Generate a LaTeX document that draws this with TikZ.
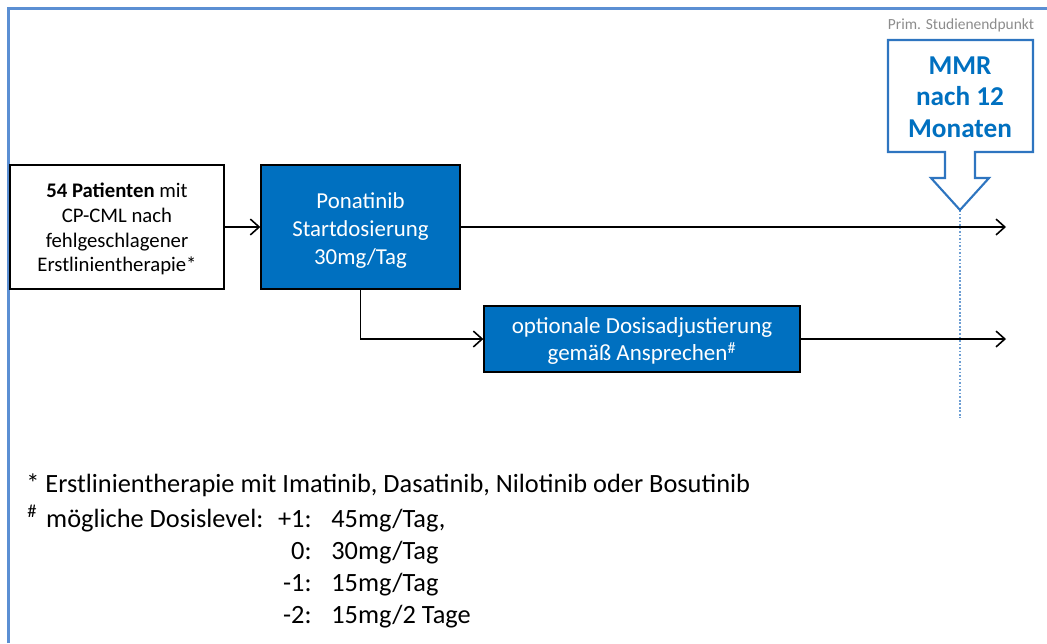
\documentclass[tikz,border=0pt]{standalone}
\usepackage{fontspec}
\setmainfont{Carlito}
\usetikzlibrary{positioning, arrows.meta}
\definecolor{boxblue}{HTML}{0070C0}
\definecolor{frameblue}{HTML}{5B8FD3}
\definecolor{calloutblue}{HTML}{2E75C0}
\begin{document}
\begin{tikzpicture}[x=0.02cm, y=-0.02cm, >={Straight Barb[length=5pt,width=9pt]}]
    \useasboundingbox (0,0) rectangle (1047,643);
    % Frame
    \draw[frameblue, line width=1.2pt] (8.5,643) -- (8.5,8.5) -- (1047,8.5);
    % Boxes
    \node[draw, line width=.8pt, fill=white, minimum width=4.28cm, minimum height=2.48cm,
          align=center, font=\fontsize{11.8}{14.2}\selectfont]
        (Patients) at (117,227) {\rule{0pt}{10.5pt}\textbf{54 Patienten} mit\\CP-CML nach\\fehlgeschlagener\\Erstlinientherapie*};
    \node[draw, line width=.8pt, fill=boxblue, text=white, minimum width=3.98cm, minimum height=2.48cm,
          align=center, font=\fontsize{13}{16}\selectfont]
        (Start) at (360.5,227) {\rule{0pt}{13pt}Ponatinib\\Startdosierung\\30mg/Tag};
    \node[draw, line width=.8pt, fill=boxblue, text=white, minimum width=6.32cm, minimum height=1.32cm,
          align=center, font=\fontsize{13.1}{15.5}\selectfont]
        (Adjust) at (642,339) {\rule{0pt}{11.5pt}optionale Dosisadjustierung\\gemäß Ansprechen\textsuperscript{\#}};
    % End points
    \coordinate (End-1) at (1006,227);
    \coordinate (End-2) at (1006,339);
    % Arrows
    \draw[->, line width=.9pt] (Patients) -- (Start);
    \draw[->, line width=.9pt] (Start) -- (End-1);
    \draw[->, line width=.9pt] (Start.south) |- (Adjust.west);
    \draw[->, line width=.9pt] (Adjust) -- (End-2);
    % Primary endpoint
    \coordinate (Tip) at (960,210);
    \coordinate (Bottom) at (960,418);
    \draw[calloutblue!70, densely dotted, line width=1pt] (Tip) -- (Bottom);
    \draw[calloutblue, line width=1.2pt, fill=white]
        (888,40) -- (1033,40) -- (1033,152) -- (975,152) -- (975,178) -- (989,178)
        -- (Tip) -- (931,178) -- (945,178) -- (945,152) -- (888,152) -- cycle;
    \node[text=boxblue, align=center, font=\bfseries\fontsize{15.5}{17.8}\selectfont]
        (MMR) at (960,97) {MMR\\nach 12\\Monaten};
    \node[text=black!45, font=\fontsize{8.8}{10}\selectfont] (Prim) at (961,25) {Prim. Studienendpunkt};
    % Footnotes
    \node[anchor=base west, inner sep=0pt, font=\fontsize{15}{17}\selectfont]
        (Note-1) at (26,492) {* Erstlinientherapie mit Imatinib, Dasatinib, Nilotinib oder Bosutinib};
    \node[anchor=base west, inner sep=0pt, font=\fontsize{15}{17}\selectfont]
        (Note-2) at (27,527) {\textsuperscript{\#}\hspace{5pt}mögliche Dosislevel:};
    \foreach \lvl/\val [count=\i] in {{+1:}/{45mg/Tag,}, {0:}/{30mg/Tag}, {-1:}/{15mg/Tag}, {-2:}/{15mg/2 Tage}} {
        \node[anchor=base east, inner sep=0pt, font=\fontsize{15}{17}\selectfont]
            (Level-\i) at (312,{495+32*\i}) {\lvl};
        \node[anchor=base west, inner sep=0pt, font=\fontsize{15}{17}\selectfont]
            (Dose-\i) at (331,{495+32*\i}) {\val};
    }
\end{tikzpicture}
\end{document}
